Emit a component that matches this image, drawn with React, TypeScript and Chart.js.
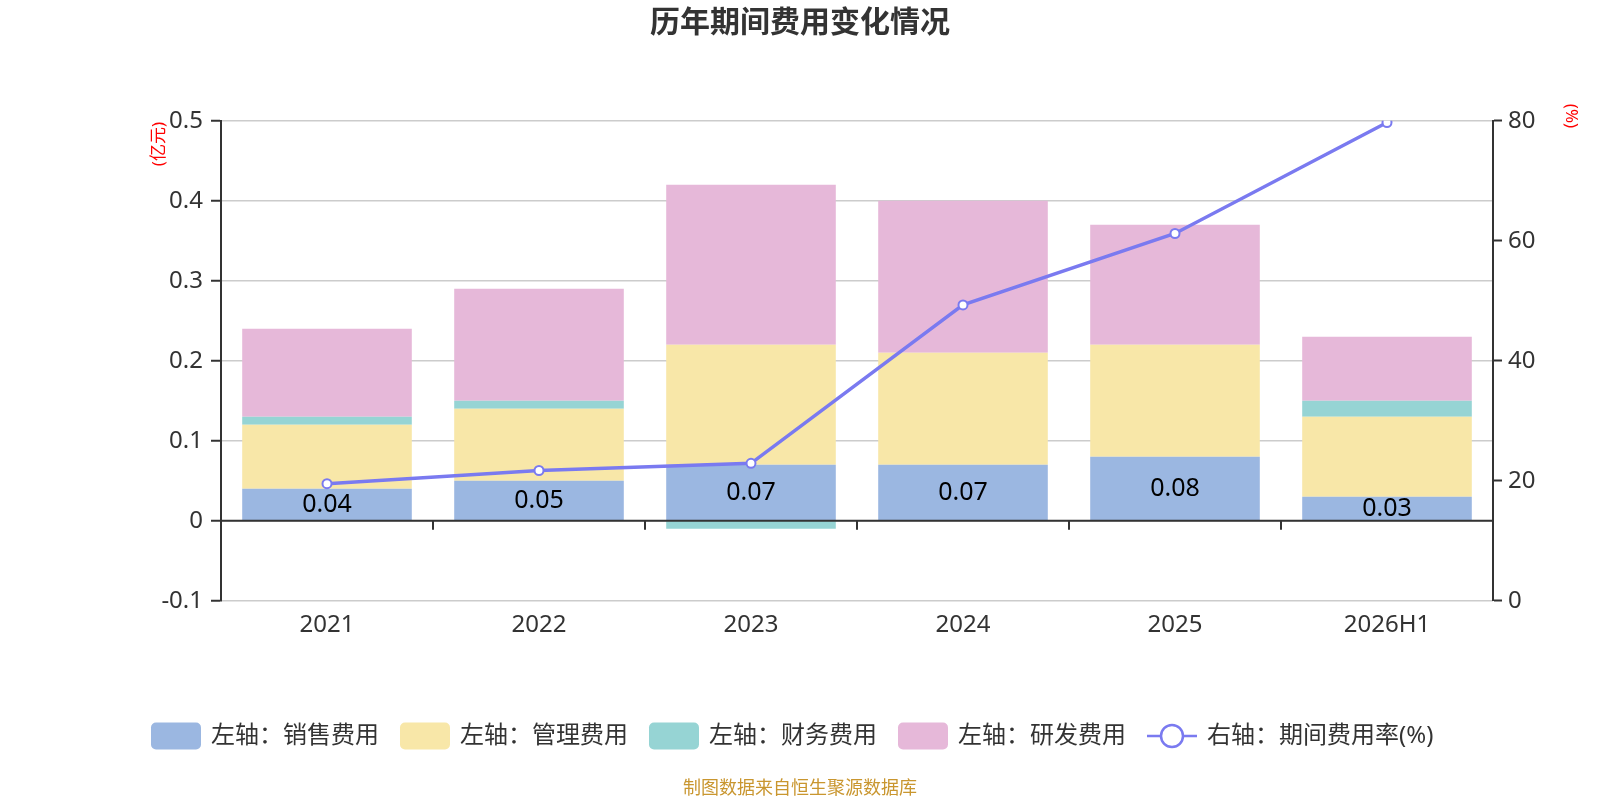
import React, { useEffect, useRef } from "react";
import { Chart, registerables } from "chart.js";

Chart.register(...registerables);

const categories = ["2021", "2022", "2023", "2024", "2025", "2026H1"];
const salesExpense = [0.04, 0.05, 0.07, 0.07, 0.08, 0.03];
const adminExpense = [0.08, 0.09, 0.15, 0.14, 0.14, 0.1];
const financeExpense = [0.01, 0.01, -0.01, 0, 0, 0.02];
const rdExpense = [0.11, 0.14, 0.2, 0.19, 0.15, 0.08];
const expenseRate = [19.5, 21.7, 22.9, 49.3, 61.2, 79.7];

const seriesNames = ["左轴：销售费用", "左轴：管理费用", "左轴：财务费用", "左轴：研发费用", "右轴：期间费用率(%)"];
const chartTitle = "历年期间费用变化情况";
const leftAxisTitle = "(亿元)";
const rightAxisTitle = "(%)";
const footerText = "制图数据来自恒生聚源数据库";

const COLORS = ["#9bb7e1", "#f8e7a8", "#96d4d4", "#e6b8d9"];
const LINE_COLOR = "#7a7af0";
const FONT = '"Noto Sans", "Noto Sans CJK SC", sans-serif';

const decorPlugin = {
  id: "decor",
  afterDatasetsDraw(chart: any) {
    const { ctx, chartArea } = chart;
    const x = chart.scales.x;
    const y = chart.scales.y;
    const y0 = y.getPixelForValue(0);
    ctx.save();
    // zero axis line
    ctx.strokeStyle = "#333";
    ctx.lineWidth = 2;
    ctx.beginPath();
    ctx.moveTo(chartArea.left, y0);
    ctx.lineTo(chartArea.right, y0);
    ctx.stroke();
    for (let i = 0; i < categories.length - 1; i++) {
      const bx = (x.getPixelForValue(i) + x.getPixelForValue(i + 1)) / 2;
      ctx.beginPath();
      ctx.moveTo(bx, y0);
      ctx.lineTo(bx, y0 + 9);
      ctx.stroke();
    }
    // data labels on sales bars
    const meta = chart.getDatasetMeta(0);
    ctx.fillStyle = "#000";
    ctx.font = `25px ${FONT}`;
    ctx.textAlign = "center";
    ctx.textBaseline = "middle";
    meta.data.forEach((bar: any, i: number) => {
      const p = bar.getProps(["x", "y", "base"], true);
      ctx.fillText(salesExpense[i].toFixed(2), p.x, (p.y + p.base) / 2);
    });
    ctx.restore();
  },
  afterDraw(chart: any) {
    const { ctx } = chart;
    ctx.save();
    // title
    ctx.fillStyle = "#333";
    ctx.font = `bold 30px ${FONT}`;
    ctx.textAlign = "center";
    ctx.textBaseline = "middle";
    ctx.fillText(chartTitle, 800, 23);
    // axis titles
    ctx.fillStyle = "#ff0000";
    ctx.font = `17px ${FONT}`;
    ctx.save();
    ctx.translate(159, 122);
    ctx.rotate(-Math.PI / 2);
    ctx.textAlign = "right";
    ctx.textBaseline = "middle";
    ctx.fillText(leftAxisTitle, 0, 0);
    ctx.restore();
    ctx.save();
    ctx.translate(1571, 116);
    ctx.rotate(Math.PI / 2);
    ctx.textAlign = "center";
    ctx.textBaseline = "middle";
    ctx.fillText(rightAxisTitle, 0, 0);
    ctx.restore();
    // legend
    ctx.font = `24px ${FONT}`;
    ctx.textAlign = "left";
    ctx.textBaseline = "middle";
    let lx = 151;
    const ly = 736;
    seriesNames.forEach((name, i) => {
      if (i < 4) {
        ctx.fillStyle = COLORS[i];
        ctx.beginPath();
        (ctx as any).roundRect(lx, ly - 13.5, 50, 27, 5);
        ctx.fill();
      } else {
        ctx.strokeStyle = LINE_COLOR;
        ctx.lineWidth = 2.5;
        ctx.beginPath();
        ctx.moveTo(lx, ly);
        ctx.lineTo(lx + 50, ly);
        ctx.stroke();
        ctx.beginPath();
        ctx.arc(lx + 25, ly, 11, 0, Math.PI * 2);
        ctx.fillStyle = "#fff";
        ctx.fill();
        ctx.stroke();
      }
      ctx.fillStyle = "#333";
      ctx.fillText(name, lx + 60, ly);
      lx += 60 + ctx.measureText(name).width + 21;
    });
    // footer
    ctx.fillStyle = "#c9962f";
    ctx.font = `18px ${FONT}`;
    ctx.textAlign = "center";
    ctx.fillText(footerText, 800, 789);
    ctx.restore();
  },
};

export default function App() {
  const ref = useRef<HTMLCanvasElement | null>(null);
  useEffect(() => {
    if (!ref.current) return;
    const barData = [salesExpense, adminExpense, financeExpense, rdExpense];
    const chart = new Chart(ref.current, {
      type: "bar",
      data: {
        labels: categories,
        datasets: [
          ...barData.map((d, i) => ({
            type: "bar" as const,
            label: seriesNames[i],
            data: d,
            backgroundColor: COLORS[i],
            borderWidth: 0,
            yAxisID: "y",
            stack: "s",
            order: 2,
            barPercentage: 0.8,
            categoryPercentage: 1,
          })),
          {
            type: "line" as const,
            label: seriesNames[4],
            data: expenseRate,
            borderColor: LINE_COLOR,
            borderWidth: 3.5,
            pointRadius: 4.5,
            pointBorderWidth: 2,
            pointBackgroundColor: "#fff",
            pointBorderColor: LINE_COLOR,
            yAxisID: "y1",
            order: 0,
            tension: 0,
          },
        ],
      } as any,
      options: {
        animation: false,
        responsive: false,
        devicePixelRatio: 1,
        layout: { padding: { top: 120.7, bottom: 159.3, left: 0, right: 0 } },
        plugins: { legend: { display: false }, title: { display: false }, tooltip: { enabled: false } },
        scales: {
          x: {
            stacked: true,
            grid: { display: false, drawTicks: false },
            border: { display: false },
            ticks: { color: "#333", font: { size: 24, family: FONT }, padding: 10 },
            afterFit: (s: any) => {
              s.height = 40;
            },
          },
          y: {
            position: "left",
            stacked: true,
            min: -0.1,
            max: 0.5,
            ticks: {
              stepSize: 0.1,
              color: "#333",
              font: { size: 24, family: FONT },
              padding: 8,
              callback: (v: any) => (Math.abs(v) < 1e-9 ? "0" : String(Number(Number(v).toFixed(1)))),
            },
            grid: { color: "#cccccc", lineWidth: 1.5, tickColor: "#333", tickLength: 10, tickWidth: 2 },
            border: { display: true, color: "#333", width: 2 },
            afterFit: (s: any) => {
              s.width = 221;
            },
          },
          y1: {
            position: "right",
            min: 0,
            max: 80,
            ticks: { stepSize: 20, color: "#333", font: { size: 24, family: FONT }, padding: 6 },
            grid: { drawOnChartArea: false, tickColor: "#333", tickLength: 9, tickWidth: 2 },
            border: { display: true, color: "#333", width: 2 },
            afterFit: (s: any) => {
              s.width = 107;
            },
          },
        },
      } as any,
      plugins: [decorPlugin],
    });
    return () => chart.destroy();
  }, []);
  return (
    <div style={{ position: "absolute", left: 0, top: 0, width: 1600, height: 800, background: "#fff" }}>
      <canvas ref={ref} width={1600} height={800} style={{ width: 1600, height: 800 }} />
    </div>
  );
}
